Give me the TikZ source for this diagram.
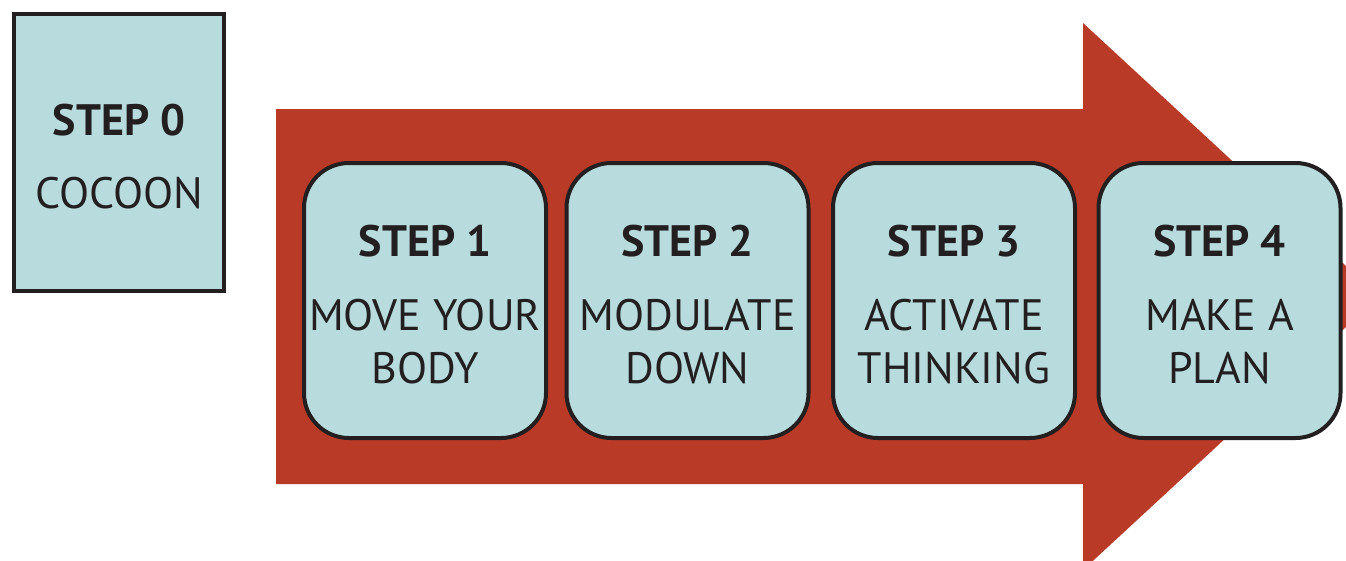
\documentclass[tikz,border=0pt]{standalone}
\usepackage{fontspec}
\setmainfont{PT Sans}
\definecolor{arrowred}{HTML}{B83A27}
\definecolor{boxblue}{HTML}{B8DCDD}
\definecolor{boxline}{HTML}{231F20}
\newcommand{\toppad}{\rule{0pt}{40pt}}

\begin{document}
\begin{tikzpicture}[x=1pt, y=-1pt,
	stepbox/.style={draw=boxline, line width=4pt, fill=boxblue, rounded corners=45pt, minimum width=242pt, minimum height=275pt, inner sep=0pt, align=center, text=boxline, font=\fontsize{44}{53}\selectfont},
	startbox/.style={stepbox, rounded corners=0pt, minimum width=210pt, minimum height=277pt}]
	\useasboundingbox (0,0) rectangle (1346,560);
	\clip (0,0) rectangle (1346,560);
	\fill[arrowred] (276,109) -- (1083,109) -- (1083,23) -- (1379,296.5) -- (1083,570) -- (1083,484) -- (276,484) -- cycle;
	\node[startbox] (step0) at (119,152.5) {\toppad\textbf{STEP 0}\\[20pt]COCOON};
	\node[stepbox] (step1) at (425,300.5) {\toppad\textbf{STEP 1}\\[21pt]MOVE YOUR\\BODY};
	\node[stepbox] (step2) at (687.5,300.5) {\toppad\textbf{STEP 2}\\[21pt]MODULATE\\DOWN};
	\node[stepbox] (step3) at (954,300.5) {\toppad\textbf{STEP 3}\\[21pt]ACTIVATE\\THINKING};
	\node[stepbox] (step4) at (1219.5,300.5) {\toppad\textbf{STEP 4}\\[21pt]MAKE A\\PLAN};
\end{tikzpicture}
\end{document}
